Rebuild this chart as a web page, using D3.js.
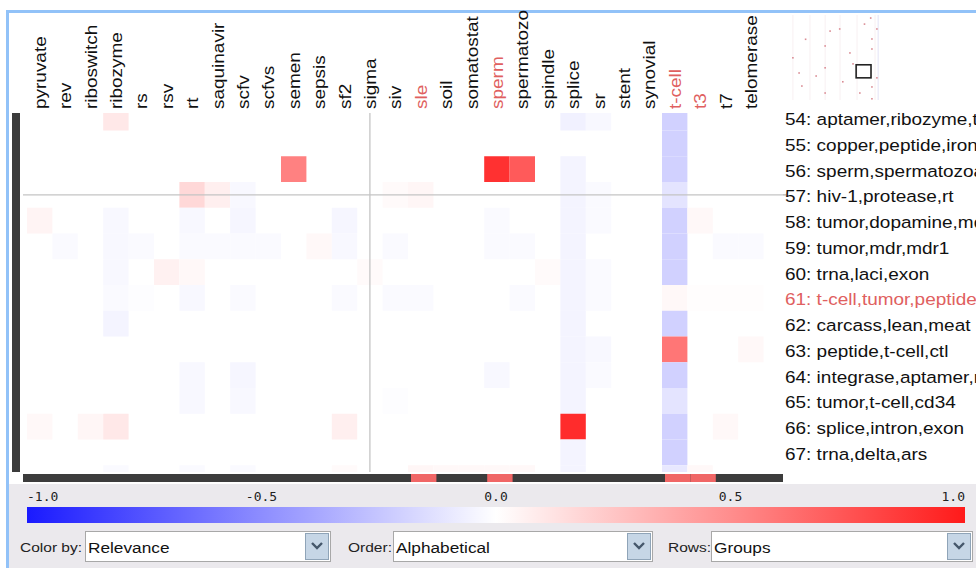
<!DOCTYPE html>
<html>
<head>
<meta charset="utf-8">
<script src="https://cdn.jsdelivr.net/npm/d3@7"></script>
<style>
  body { margin: 0; background: #fff; }
  svg { display: block; }
</style>
</head>
<body>
<div id="chart"></div>
<script>
// columns of the matrix (truncated the way the app shows them)
const columns = ['pyruvate', 'rev', 'riboswitch', 'ribozyme', 'rs', 'rsv', 'rt', 'saquinavir', 'scfv', 'scfvs',
  'semen', 'sepsis', 'sf2', 'sigma', 'siv', 'sle', 'soil', 'somatostat', 'sperm', 'spermatozo',
  'spindle', 'splice', 'sr', 'stent', 'synovial', 't-cell', 't3', 't7', 'telomerase']
const selectedColumns = ['sle', 'sperm', 't-cell', 't3']

// row groups visible in the window
const rowIds = [53, 54, 55, 56, 57, 58, 59, 60, 61, 62, 63, 64, 65, 66, 67, 68]
const rowLabels = ['trna,ribozyme,aptamer', 'aptamer,ribozyme,trna', 'copper,peptide,iron', 'sperm,spermatozoa,semen',
  'hiv-1,protease,rt', 'tumor,dopamine,mdr', 'tumor,mdr,mdr1', 'trna,laci,exon', 't-cell,tumor,peptide',
  'carcass,lean,meat', 'peptide,t-cell,ctl', 'integrase,aptamer,rev', 'tumor,t-cell,cd34',
  'splice,intron,exon', 'trna,delta,ars', 'sle,sperm,t3']
const selectedRows = [61]
const cursorRow = 57
const cursorColumn = 'sigma'

// relevance values [row, column, value], everything else is 0
const cells = [
  [54, 'ribozyme', 0.1], [54, 'splice', -0.06], [54, 'sr', -0.03], [54, 't-cell', -0.2],
  [55, 't-cell', -0.2],
  [56, 'semen', 0.55], [56, 'sperm', 0.9], [56, 'spermatozo', 0.72], [56, 'splice', -0.05], [56, 't-cell', -0.2],
  [57, 'rt', 0.17], [57, 'saquinavir', 0.07], [57, 'scfv', -0.03], [57, 'siv', 0.02], [57, 'sle', 0.04],
  [57, 'splice', -0.05], [57, 'sr', -0.02], [57, 't-cell', -0.12],
  [58, 'pyruvate', 0.05], [58, 'ribozyme', -0.03], [58, 'rt', -0.03], [58, 'scfv', -0.04], [58, 'sf2', -0.04],
  [58, 'sperm', -0.02], [58, 'splice', -0.05], [58, 'sr', -0.02], [58, 't-cell', -0.2], [58, 't3', 0.03],
  [59, 'rev', -0.02], [59, 'ribozyme', -0.03], [59, 'rs', -0.02], [59, 'rt', -0.02], [59, 'saquinavir', -0.02],
  [59, 'scfv', -0.02], [59, 'scfvs', -0.02], [59, 'sepsis', 0.03], [59, 'sf2', -0.03], [59, 'siv', -0.02],
  [59, 'sperm', -0.02], [59, 'spermatozo', -0.02], [59, 'splice', -0.05], [59, 't-cell', -0.2],
  [59, 't7', -0.02], [59, 'telomerase', -0.02],
  [60, 'ribozyme', -0.03], [60, 'rsv', 0.06], [60, 'rt', 0.03], [60, 'sigma', 0.02], [60, 'spindle', 0.02],
  [60, 'splice', -0.05], [60, 'sr', -0.02], [60, 't-cell', -0.2],
  [61, 'ribozyme', -0.02], [61, 'rs', -0.01], [61, 'rt', -0.03], [61, 'scfv', -0.02], [61, 'sf2', -0.02],
  [61, 'siv', -0.02], [61, 'sle', -0.02], [61, 'spermatozo', -0.02], [61, 'splice', -0.05], [61, 'sr', -0.02],
  [61, 't-cell', 0.03], [61, 't3', 0.01], [61, 't7', 0.01], [61, 'telomerase', 0.01],
  [62, 'ribozyme', -0.05], [62, 'splice', -0.05], [62, 't-cell', -0.2],
  [63, 'splice', -0.05], [63, 'sr', -0.03], [63, 't-cell', 0.6], [63, 'telomerase', 0.03],
  [64, 'rt', -0.03], [64, 'scfv', -0.04], [64, 'sperm', -0.03], [64, 'splice', -0.05], [64, 'sr', -0.02], [64, 't-cell', -0.2],
  [65, 'rt', -0.03], [65, 'scfv', -0.03], [65, 'siv', -0.01], [65, 'splice', -0.05], [65, 't-cell', -0.12],
  [66, 'pyruvate', 0.03], [66, 'riboswitch', 0.04], [66, 'ribozyme', 0.1], [66, 'sf2', 0.07], [66, 'splice', 0.92],
  [66, 't-cell', -0.2], [66, 't7', 0.03],
  [67, 'splice', -0.05], [67, 't-cell', -0.2],
  [68, 'ribozyme', -0.02], [68, 'rt', -0.02], [68, 'scfv', -0.02], [68, 'sf2', 0.02], [68, 'sle', 0.04],
  [68, 'soil', 0.03], [68, 'somatostat', 0.03], [68, 'sperm', 0.03], [68, 'spermatozo', 0.03],
  [68, 'splice', -0.05], [68, 't-cell', -0.1], [68, 't3', 0.03]
]

// colour legend
const legendTicks = [-1.0, -0.5, 0.0, 0.5, 1.0]

// overview map (column, row) in overview units
const overviewDots = [[27, 1], [29, 4.6], [13.9, 5.3], [17, 4.6], [12.3, 10.2], [27.4, 7.9], [27.4, 11.2],
  [20.3, 12.5], [1.9, 14.1], [12.3, 17.4], [21.3, 16.1], [3.9, 19.1], [9.4, 20.1], [29, 20.7],
  [27.4, 23.7], [4.8, 23.4], [12.3, 25.7], [23.5, 25.7], [27.4, 27.6], [6, 8], [18, 22], [25, 3]]
const overviewStripes = [1.9, 7.4, 12.3, 17.1, 22.6, 28.4, 29.4]
const overviewWindow = [[22.3, 16.4], [27.1, 20.7]]

// controls
const controls = [
  { label: 'Color by:', value: 'Relevance', x0: 20, x1: 85, x2: 330 },
  { label: 'Order:', value: 'Alphabetical', x0: 348, x1: 393, x2: 652 },
  { label: 'Rows:', value: 'Groups', x0: 668, x1: 711, x2: 972 }
]

const W = 976, H = 568
const GRID = { LEFT: 23, TOP: 113, RIGHT: 783, BOTTOM: 472 }
const HILITE = '#f06666'
const DARK = '#3c3c3c'
const SANS = '"Liberation Sans", Arial, sans-serif'

const svg = d3.select('#chart').append('svg')
  .attr('width', W).attr('height', H)

// ─── SCALES ───────────────────────────────────────────────
const x = d3.scaleBand().domain(columns).range([27, 27 + columns.length * 25.4])
const y = d3.scaleBand().domain(rowIds).range([79, 79 + rowIds.length * 25.75])
const color = d3.scaleLinear().domain([-1, 0, 1]).range(['#1a1aff', '#ffffff', '#ff1a1a'])

// ─── FRAME / BACKGROUNDS ──────────────────────────────────
svg.append('rect').attr('x', 9).attr('y', 484).attr('width', W - 9).attr('height', H - 484).attr('fill', '#ebe9ed')
svg.append('rect').attr('x', 6).attr('y', 10).attr('width', W - 6).attr('height', 3).attr('fill', '#92c2f8')
svg.append('rect').attr('x', 6).attr('y', 10).attr('width', 3).attr('height', H - 10).attr('fill', '#92c2f8')

const defs = svg.append('defs')
defs.append('clipPath').attr('id', 'gridClip').append('rect')
  .attr('x', GRID.LEFT).attr('y', GRID.TOP)
  .attr('width', GRID.RIGHT - GRID.LEFT).attr('height', GRID.BOTTOM - GRID.TOP)
defs.append('clipPath').attr('id', 'rowClip').append('rect')
  .attr('x', 780).attr('y', 106).attr('width', W - 780).attr('height', GRID.BOTTOM - 106)

// ─── CELLS ────────────────────────────────────────────────
const g = svg.append('g').attr('clip-path', 'url(#gridClip)')
g.selectAll('rect.cell')
  .data(cells)
  .join('rect')
  .attr('class', 'cell')
  .attr('x', d => x(d[1]))
  .attr('y', d => y(d[0]))
  .attr('width', x.bandwidth())
  .attr('height', y.bandwidth())
  .attr('fill', d => color(d[2]))

// cursor cross
g.append('line')
  .attr('x1', GRID.LEFT).attr('x2', GRID.RIGHT)
  .attr('y1', y(cursorRow) + y.bandwidth() / 2).attr('y2', y(cursorRow) + y.bandwidth() / 2)
  .attr('stroke', '#c4c4c4').attr('stroke-width', 1.3)
g.append('line')
  .attr('x1', x(cursorColumn) + x.bandwidth() / 2).attr('x2', x(cursorColumn) + x.bandwidth() / 2)
  .attr('y1', GRID.TOP).attr('y2', GRID.BOTTOM)
  .attr('stroke', '#c4c4c4').attr('stroke-width', 1.3)
// line continues to the row label
svg.append('line')
  .attr('x1', GRID.RIGHT).attr('x2', 786)
  .attr('y1', y(cursorRow) + y.bandwidth() / 2).attr('y2', y(cursorRow) + y.bandwidth() / 2)
  .attr('stroke', '#b0b0b0').attr('stroke-width', 1.3)

// ─── SELECTION BARS ───────────────────────────────────────
svg.append('rect').attr('x', 12).attr('y', GRID.TOP).attr('width', 8)
  .attr('height', GRID.BOTTOM - GRID.TOP).attr('fill', DARK)
svg.append('g').attr('clip-path', 'url(#gridClip)').selectAll('rect')
  .data(selectedRows)
  .join('rect')
  .attr('x', 12).attr('width', 8)
  .attr('y', d => y(d) + 2.5).attr('height', y.bandwidth())
  .attr('fill', HILITE)

svg.append('rect').attr('x', GRID.LEFT).attr('y', 474).attr('width', GRID.RIGHT - GRID.LEFT)
  .attr('height', 8).attr('fill', DARK)
svg.selectAll('rect.colsel')
  .data(selectedColumns)
  .join('rect')
  .attr('class', 'colsel')
  .attr('x', d => x(d) + 3).attr('width', x.bandwidth())
  .attr('y', 474).attr('height', 8)
  .attr('fill', HILITE)

// ─── COLUMN HEADERS ───────────────────────────────────────
svg.selectAll('text.col')
  .data(columns)
  .join('text')
  .attr('class', 'col')
  .attr('transform', d => `translate(${x(d) + x.bandwidth() / 2 + 6}, 109) rotate(-90) scale(1.15,1)`)
  .attr('font-family', SANS)
  .attr('font-size', 16.5)
  .attr('fill', d => selectedColumns.includes(d) ? '#e06060' : '#111')
  .text(d => d)

// ─── ROW LABELS ───────────────────────────────────────────
// only the rows whose middle is inside the grid window get a label
const labelled = rowIds.map((d, i) => ({ id: d, text: rowLabels[i] }))
  .filter(d => {
    const mid = y(d.id) + y.bandwidth() / 2
    return mid > GRID.TOP && mid < GRID.BOTTOM
  })
svg.append('g').attr('clip-path', 'url(#rowClip)')
  .selectAll('text')
  .data(labelled)
  .join('text')
  .attr('transform', d => `translate(785, ${y(d.id) + y.bandwidth() / 2 + 7.5}) scale(1.15,1)`)
  .attr('font-family', SANS)
  .attr('font-size', 16.5)
  .attr('fill', d => selectedRows.includes(d.id) ? '#e06060' : '#111')
  .text(d => `${d.id}: ${d.text}`)

// ─── OVERVIEW ─────────────────────────────────────────────
const ox = d3.scaleLinear().domain([0, 30]).range([787, 880])
const oy = d3.scaleLinear().domain([0, 28]).range([15, 100])
const ov = svg.append('g')
ov.selectAll('rect.stripe')
  .data(overviewStripes)
  .join('rect')
  .attr('class', 'stripe')
  .attr('x', d => ox(d) - 0.5).attr('width', 1)
  .attr('y', oy(0)).attr('height', oy(28) - oy(0))
  .attr('fill', (d, i) => i === overviewStripes.length - 1 ? '#e4e4f6' : '#f8f0f2')
ov.selectAll('rect.dot')
  .data(overviewDots)
  .join('rect')
  .attr('class', 'dot')
  .attr('x', d => ox(d[0]) - 0.8).attr('y', d => oy(d[1]) - 0.8)
  .attr('width', 1.6).attr('height', 1.6)
  .attr('fill', '#da8c94')
ov.append('rect')
  .attr('x', ox(overviewWindow[0][0])).attr('y', oy(overviewWindow[0][1]))
  .attr('width', ox(overviewWindow[1][0]) - ox(overviewWindow[0][0]))
  .attr('height', oy(overviewWindow[1][1]) - oy(overviewWindow[0][1]))
  .attr('fill', 'none').attr('stroke', '#222').attr('stroke-width', 1.6)

// ─── COLOUR LEGEND ────────────────────────────────────────
const lx = d3.scaleLinear().domain([-1, 1]).range([27, 965])
const grad = defs.append('linearGradient').attr('id', 'legendGrad')
grad.selectAll('stop')
  .data(d3.range(-1, 1.001, 0.1))
  .join('stop')
  .attr('offset', d => (d + 1) / 2)
  .attr('stop-color', d => color(d))
svg.append('rect')
  .attr('x', lx(-1)).attr('y', 507).attr('width', lx(1) - lx(-1)).attr('height', 16)
  .attr('fill', 'url(#legendGrad)')
svg.selectAll('text.tick')
  .data(legendTicks)
  .join('text')
  .attr('class', 'tick')
  .attr('x', d => lx(d))
  .attr('y', 501)
  .attr('text-anchor', (d, i) => i === 0 ? 'start' : i === legendTicks.length - 1 ? 'end' : 'middle')
  .attr('font-family', '"DejaVu Sans Mono", monospace')
  .attr('font-size', 13)
  .attr('fill', '#222')
  .text(d => d3.format('.1f')(d).replace('−', '-'))

// ─── CONTROLS ─────────────────────────────────────────────
const ctl = svg.selectAll('g.ctl')
  .data(controls)
  .join('g')
  .attr('class', 'ctl')
ctl.append('text')
  .attr('transform', d => `translate(${d.x0}, 552) scale(1.15,1)`)
  .attr('font-family', SANS).attr('font-size', 13.5).attr('fill', '#222')
  .text(d => d.label)
ctl.append('rect')
  .attr('x', d => d.x1 + 0.5).attr('y', 531.5)
  .attr('width', d => d.x2 - d.x1).attr('height', 30)
  .attr('fill', '#fff').attr('stroke', '#a8a8a8')
ctl.append('text')
  .attr('transform', d => `translate(${d.x1 + 3}, 553) scale(1.15,1)`)
  .attr('font-family', SANS).attr('font-size', 15).attr('fill', '#111')
  .text(d => d.value)
ctl.append('rect')
  .attr('x', d => d.x2 - 24.5).attr('y', 533.5)
  .attr('width', 23).attr('height', 26)
  .attr('fill', '#c6d6e6').attr('stroke', '#8fa4b8')
ctl.append('path')
  .attr('d', d => `M${d.x2 - 18},${543} l5,5 l5,-5`)
  .attr('fill', 'none').attr('stroke', '#45576b').attr('stroke-width', 2.4)
</script>
</body>
</html>
